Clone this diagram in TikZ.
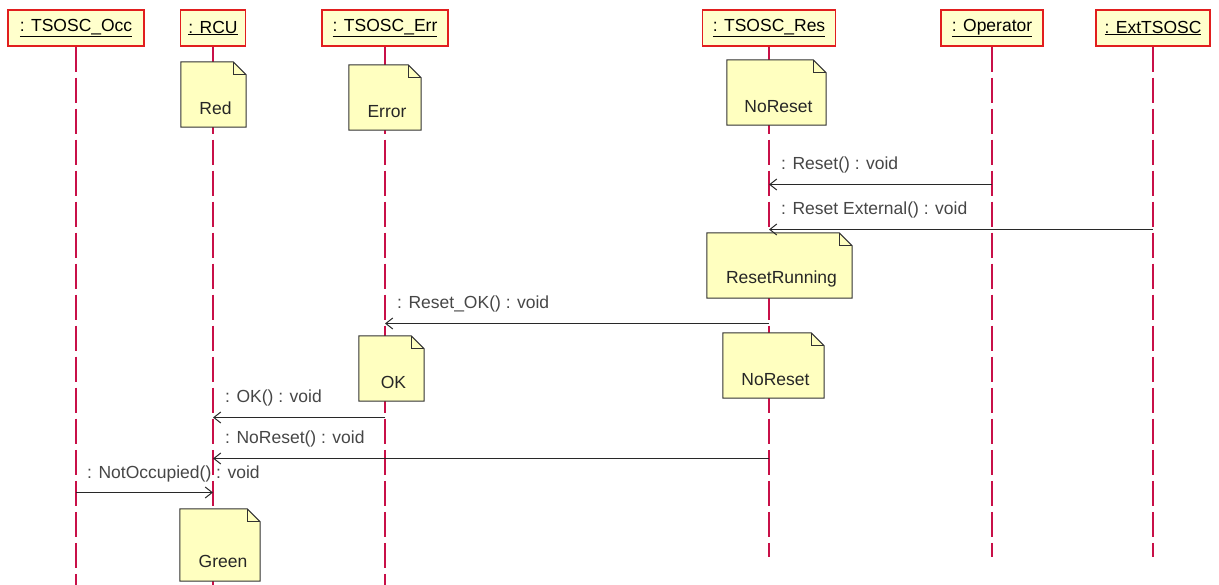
\documentclass[tikz,border=0pt]{standalone}
\usepackage{fontspec}
\setmainfont{Liberation Sans}
\usetikzlibrary{arrows.meta}
\definecolor{lifeC}{RGB}{200,16,72}
\definecolor{hdrBorder}{RGB}{225,30,30}
\definecolor{hdrFill}{RGB}{255,255,204}
\definecolor{noteFill}{RGB}{255,255,192}
\definecolor{noteDraw}{RGB}{50,50,50}
\definecolor{msgC}{RGB}{40,40,40}
\definecolor{lblC}{RGB}{70,70,70}
\newcommand\notefold[1]{%
  \filldraw[fill=noteFill,draw=noteDraw,line width=1pt,line join=miter]
    (#1.south west) -- (#1.north west) -- ([xshift=-13pt]#1.north east)
    -- ([yshift=-13pt]#1.north east) -- (#1.south east) -- cycle;
  \draw[noteDraw,line width=1pt] ([xshift=-13pt]#1.north east) |- ([yshift=-13pt]#1.north east);}
\begin{document}
\begin{tikzpicture}[x=1pt,y=-1pt,
  every node/.style={font=\fontsize{17.5}{20}\selectfont},
  hdr/.style={draw=hdrBorder,fill=hdrFill,line width=1.5pt,minimum height=36pt,inner sep=0pt,text=black},
  life/.style={draw=lifeC,line width=1.3pt,dash pattern=on 25pt off 6pt},
  notebox/.style={draw=none,fill=none,inner sep=0pt},
  notetext/.style={inner sep=0pt,text=black!85},
  msg/.style={draw=msgC,line width=1pt,-{Straight Barb[length=7pt,width=11pt]}},
  lbl/.style={anchor=west,inner sep=0pt,text=lblC}]
\useasboundingbox (0,0) rectangle (1219,585);
% headers
\node[hdr,minimum width=136pt] (occ) at (76,28) {\underline{: TSOSC\_Occ}};
\node[hdr,minimum width=65pt] (rcu) at (213,28) {\underline{: RCU}};
\node[hdr,minimum width=126pt] (err) at (385,28) {\underline{: TSOSC\_Err}};
\node[hdr,minimum width=133pt] (res) at (769,28) {\underline{: TSOSC\_Res}};
\node[hdr,minimum width=102pt] (op) at (992,28) {\underline{: Operator}};
\node[hdr,minimum width=114pt] (ext) at (1153,28) {\underline{: ExtTSOSC}};
% lifeline ends
\coordinate (occE) at (76,585);
\coordinate (rcuE) at (213,585);
\coordinate (errE) at (385,585);
\coordinate (resE) at (769,557);
\coordinate (opE) at (992,557);
\coordinate (extE) at (1153,557);
\draw[life] (occ.south) -- (occE);
\draw[life] (rcu.south) -- (rcuE);
\draw[life] (err.south) -- (errE);
\draw[life] (res.south) -- (resE);
\draw[life] (op.south) -- (opE);
\draw[life] (ext.south) -- (extE);
% lifeline anchor coordinates for messages
\coordinate (resA1) at (769,184.5);
\coordinate (opA1) at (992,184.5);
\coordinate (resA2) at (769,229.5);
\coordinate (extA2) at (1153,229.5);
\coordinate (errA3) at (385,323.5);
\coordinate (resA3) at (769,323.5);
\coordinate (rcuA4) at (213,417.5);
\coordinate (errA4) at (385,417.5);
\coordinate (rcuA5) at (213,458.5);
\coordinate (resA5) at (769,458.5);
\coordinate (occA6) at (76,492.5);
\coordinate (rcuA6) at (213,492.5);
% notes
\node[notebox,minimum width=65pt,minimum height=65pt] (nRed) at (213.5,94.5) {};
\notefold{nRed}
\node[notetext] (nRedT) at ([xshift=2pt,yshift=19pt]nRed.south) {Red};
\node[notebox,minimum width=72pt,minimum height=65pt] (nErr) at (385,97.5) {};
\notefold{nErr}
\node[notetext] (nErrT) at ([xshift=2pt,yshift=19pt]nErr.south) {Error};
\node[notebox,minimum width=99pt,minimum height=65pt] (nNR1) at (776.5,92.5) {};
\notefold{nNR1}
\node[notetext] (nNR1T) at ([xshift=2pt,yshift=19pt]nNR1.south) {NoReset};
\node[notebox,minimum width=145pt,minimum height=65pt] (nRR) at (779.5,265.5) {};
\notefold{nRR}
\node[notetext] (nRRT) at ([xshift=2pt,yshift=19pt]nRR.south) {ResetRunning};
\node[notebox,minimum width=65pt,minimum height=65pt] (nOK) at (391.5,368.5) {};
\notefold{nOK}
\node[notetext] (nOKT) at ([xshift=2pt,yshift=19pt]nOK.south) {OK};
\node[notebox,minimum width=101pt,minimum height=65pt] (nNR2) at (773.5,365.5) {};
\notefold{nNR2}
\node[notetext] (nNR2T) at ([xshift=2pt,yshift=19pt]nNR2.south) {NoReset};
\node[notebox,minimum width=80pt,minimum height=72pt] (nGr) at (220,545) {};
\notefold{nGr}
\node[notetext] (nGrT) at ([xshift=3pt,yshift=20pt]nGr.south) {Green};
% messages
\draw[msg] (opA1) -- (resA1);
\node[lbl] (l1) at ([xshift=12pt,yshift=20pt]resA1) {: Reset() : void};
\draw[msg] (extA2) -- (resA2);
\node[lbl] (l2) at ([xshift=12pt,yshift=20pt]resA2) {: Reset External() : void};
\draw[msg] (resA3) -- (errA3);
\node[lbl] (l3) at ([xshift=12pt,yshift=20pt]errA3) {: Reset\_OK() : void};
\draw[msg] (errA4) -- (rcuA4);
\node[lbl] (l4) at ([xshift=12pt,yshift=20pt]rcuA4) {: OK() : void};
\draw[msg] (resA5) -- (rcuA5);
\node[lbl] (l5) at ([xshift=12pt,yshift=20pt]rcuA5) {: NoReset() : void};
\draw[msg] (occA6) -- (rcuA6);
\node[lbl] (l6) at ([xshift=11pt,yshift=19pt]occA6) {: NotOccupied() : void};
\end{tikzpicture}
\end{document}
